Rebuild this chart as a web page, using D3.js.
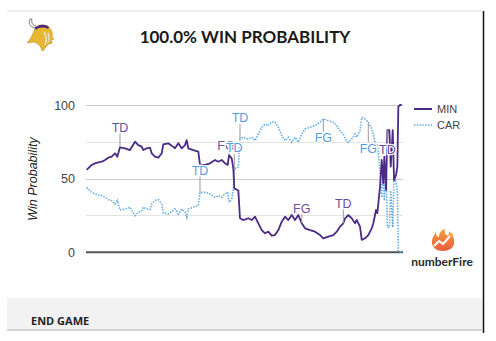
<!DOCTYPE html>
<html><head><meta charset="utf-8">
<script src="https://cdn.jsdelivr.net/npm/d3@7"></script>
<style>
html,body{margin:0;padding:0;background:#fff;}
svg{display:block;}
</style></head>
<body>
<svg id="c" width="496" height="341"></svg>
<script>
// ---- data ----
const gameMinute = [0,0.95,1.58,2.21,2.86,3.49,4.11,4.76,5.39,5.83,6.34,7.30,8.25,9.20,9.83,10.48,10.78,11.43,12.06,12.38,13.01,13.64,14.29,14.59,15.54,16.19,16.82,17.45,18.10,18.73,19.05,19.35,20.31,21.26,21.58,22.54,23.49,24.44,25.07,25.72,26.35,26.86,27.11,27.62,27.93,28.12,28.88,29.20,29.83,30.79,31.43,32.06,32.69,33.34,33.97,34.59,35.24,35.87,36.50,37.15,37.78,38.40,39.05,39.68,40.31,40.96,41.59,42.54,43.49,44.44,45.07,46.03,46.98,47.63,48.25,48.88,49.21,49.83,50.48,51.11,51.44,52.06,52.39,53.02,53.64,54.29,54.60,55.11,55.36,55.87,56.20,56.50,56.69,57.02,57.27,57.65,57.91,58.29,58.54,58.92,59.17,59.36,59.68,60];
const minProb = [55.9,59.3,60.4,61,61.5,62.7,64.2,64.9,67.2,64.9,71.3,70.6,69.4,75.1,72.8,71.7,69.4,70.6,71,67.2,64.9,64.2,67.2,73.3,74,72.4,70.6,74,70.6,72.8,76.2,70.6,69.4,68.3,59.3,59.3,60.4,62.7,61.5,62.7,60.4,59.3,66,63.8,57,43.4,42,23.1,21.9,23.1,21.9,24.2,19.7,15.1,12.9,14,11.3,11.7,15.1,20.8,24.2,21.9,25.3,21.9,25.3,19.7,16.3,15.1,14,11.7,9.5,10.6,11.7,14,17.4,19.7,23.1,25.3,23.1,19.7,21.9,17.4,8.4,9.5,11.7,16.3,19.7,28.7,26.5,44.5,62.7,46.8,64.9,42.3,83,83,58.1,83,49,52.5,58.1,98.9,100,100];
const carProb = [44.1,40.7,39.6,39,38.5,37.3,35.8,35.1,32.8,35.1,28.7,29.4,30.6,24.9,27.2,28.3,30.6,29.4,29,32.8,35.1,35.8,32.8,26.7,26,27.6,29.4,26,29.4,27.2,23.8,29.4,30.6,31.7,40.7,40.7,39.6,37.3,38.5,37.3,39.6,40.7,34,36.2,43,56.6,58,76.9,78.1,76.9,78.1,75.8,80.3,84.9,87.1,86,88.7,88.3,84.9,79.2,75.8,78.1,74.7,78.1,74.7,80.3,83.7,84.9,86,88.3,90.5,89.4,88.3,86,82.6,80.3,76.9,74.7,76.9,80.3,78.1,82.6,91.6,90.5,88.3,83.7,80.3,71.3,73.5,55.5,37.3,53.2,35.1,57.7,17,17,41.9,17,51,47.5,41.9,1.1,0,0];
const yTicks = [0,50,100];
const gridValues = [25,50,75,100];
const seriesNames = ["MIN","CAR"];
// annotations: series, index into data, text, label offset from point (px)
const annotations = [
  {s:"MIN", i:10, text:"TD", off:-20},
  {s:"CAR", i:34, text:"TD", off:-22},
  {s:"MIN", i:42, text:"FG", off:-9, dx:-3},
  {s:"CAR", i:45, text:"TD", off:-21},
  {s:"CAR", i:47, text:"TD", off:-21},
  {s:"MIN", i:65, text:"FG", off:-15},
  {s:"CAR", i:70, text:"FG", off:19},
  {s:"MIN", i:75, text:"TD", off:-20},
  {s:"CAR", i:84, text:"FG", off:26},
  {s:"MIN", i:94, text:"TD", off:20}
];

// ---- drawing ----
const svg = d3.select("#c");
const colors = {MIN:"#4b2a85", CAR:"#5aa8e6"};
const textColors = {MIN:"#6a4ea3", CAR:"#4f9fe2"};
const x = d3.scaleLinear().domain([0,60]).range([86.7,401.7]);
const y = d3.scaleLinear().domain([0,100]).range([252.3,105]);

// frame
svg.append("line").attr("x1",7).attr("x2",483).attr("y1",11).attr("y2",11).attr("stroke","#dcdcdc").attr("stroke-width",1);
svg.append("line").attr("x1",483.5).attr("x2",483.5).attr("y1",11).attr("y2",333).attr("stroke","#111").attr("stroke-width",1.5);

// title
svg.append("text").attr("x",245).attr("y",43).attr("text-anchor","middle")
  .attr("font-family","Lato, 'Open Sans', sans-serif").attr("font-weight","bold").attr("font-size",17)
  .attr("fill","#1a1a1a").text("100.0% WIN PROBABILITY");

// Vikings logo (approximation)
const logo = svg.append("g").attr("transform","translate(26,16)");
logo.append("path").attr("d","M4,3 C2,7 4,11 9,12 L10,10 C7,9 5,7 6,3 Z").attr("fill","#f4f4f4").attr("stroke","#555").attr("stroke-width",0.7);
logo.append("path").attr("d","M9,12 C13,8 19,8 23,11 C26,14 27,18 26,21 L28,23 L25,24 L26,27 L23,28 C21,30 19,31 18,34 L16,35 C15,30 12,27 7,26 L1,27 C4,24 6,20 8,15 Z").attr("fill","#e8b830").attr("stroke","#a8841a").attr("stroke-width",0.5);
logo.append("path").attr("d","M9,12 C13,8 19,8 23,11 L22,13 C18,11 13,11 10,14 Z").attr("fill","#4f2683");
logo.append("path").attr("d","M18,16 C20,19 21,24 19,29 M22,17 C23,20 23,24 22,26").attr("fill","none").attr("stroke","#e2dccb").attr("stroke-width",1.6);

// gridlines
svg.append("g").selectAll("line").data(gridValues).join("line")
  .attr("x1",86).attr("x2",403).attr("y1",d=>Math.round(y(d))+0.5).attr("y2",d=>Math.round(y(d))+0.5)
  .attr("stroke",d=>d%50===0?"#cccccc":"#e4e4e4").attr("stroke-width",1);
svg.append("line").attr("x1",86).attr("x2",403).attr("y1",y(0)).attr("y2",y(0)).attr("stroke","#555").attr("stroke-width",2);

// y axis labels
const yAxis = d3.axisLeft(y).tickValues(yTicks).tickSize(0).tickPadding(0);
const ga = svg.append("g").attr("transform","translate(75,0)").call(yAxis);
ga.select(".domain").remove();
ga.selectAll("text").attr("font-family","Arial, 'Liberation Sans', sans-serif").attr("font-size",12.5).attr("fill","#444");

svg.append("text").attr("transform","translate(37,179) rotate(-90)").attr("text-anchor","middle")
  .attr("font-family","Arial, 'Liberation Sans', sans-serif").attr("font-style","italic").attr("font-size",12.5)
  .attr("fill","#222").text("Win Probability");

// lines
const series = {MIN:minProb, CAR:carProb};
const lineGen = arr => d3.line().x((d,i)=>x(gameMinute[i])).y(d=>y(d))(arr);
svg.append("path").attr("d",lineGen(carProb)).attr("fill","none").attr("stroke",colors.CAR)
  .attr("stroke-width",1.6).attr("stroke-dasharray","1.4,1.4");
svg.append("path").attr("d",lineGen(minProb)).attr("fill","none").attr("stroke",colors.MIN)
  .attr("stroke-width",1.8).attr("stroke-linejoin","round");

// annotations
const ag = svg.append("g");
annotations.forEach(a=>{
  const px = x(gameMinute[a.i]), py = y(series[a.s][a.i]);
  const ty = py + a.off;
  const stemEnd = a.off<0 ? ty+6 : ty-6;
  ag.append("line").attr("x1",px).attr("x2",px).attr("y1",py).attr("y2",stemEnd)
    .attr("stroke","#999").attr("stroke-width",1);
});
annotations.forEach(a=>{
  const px = x(gameMinute[a.i]) + (a.dx||0), py = y(series[a.s][a.i]);
  ag.append("text").attr("x",px).attr("y",py+a.off).attr("dy","0.35em").attr("text-anchor","middle")
    .attr("font-family","Arial, 'Liberation Sans', sans-serif").attr("font-size",12.5)
    .attr("fill",textColors[a.s]).attr("stroke","#fff").attr("stroke-width",2.5).attr("paint-order","stroke")
    .text(a.text);
});

// legend
const lg = svg.append("g");
seriesNames.forEach((n,k)=>{
  const ly = 109 + k*16;
  lg.append("line").attr("x1",414).attr("x2",432).attr("y1",ly).attr("y2",ly)
    .attr("stroke",colors[n]).attr("stroke-width",n==="MIN"?2:1.6).attr("stroke-dasharray",n==="CAR"?"1.4,1.4":null);
  lg.append("text").attr("x",437).attr("y",ly).attr("dy","0.35em")
    .attr("font-family","Arial, 'Liberation Sans', sans-serif").attr("font-size",11).attr("fill","#444").text(n);
});

// numberFire logo
const defs = svg.append("defs");
const gr = defs.append("linearGradient").attr("id","fl").attr("x1",0).attr("y1",0).attr("x2",0).attr("y2",1);
gr.append("stop").attr("offset","0%").attr("stop-color","#f4a13b");
gr.append("stop").attr("offset","100%").attr("stop-color","#ec5b3e");
const nf = svg.append("g").attr("transform","translate(431,229)");
nf.append("path").attr("d","M12,22 C4,22 0,17 1,11 C2,7 4,5 5,3 C5,7 7,8 8,8 C8,4 10,1 14,0 C13,4 15,6 17,7 C18,5 18,4 18,2 C22,6 24,10 23,15 C22,19 18,22 12,22 Z").attr("fill","url(#fl)");
nf.append("path").attr("d","M3,17 L8,12 L12,15 L19,7").attr("fill","none").attr("stroke","#fff").attr("stroke-width",2).attr("stroke-linejoin","round");
nf.append("circle").attr("cx",20.5).attr("cy",5.5).attr("r",1.6).attr("fill","#f7b646");
svg.append("text").attr("x",442).attr("y",266).attr("text-anchor","middle")
  .attr("font-family","Lato, 'Open Sans', sans-serif").attr("font-weight","bold").attr("font-size",12)
  .attr("fill","#2a2a2a").text("numberFire");

// bottom panel
svg.append("rect").attr("x",7).attr("y",298).attr("width",475).attr("height",31).attr("fill","#f2f2f2");
svg.append("line").attr("x1",7).attr("x2",482).attr("y1",330).attr("y2",330).attr("stroke","#d4d4d4").attr("stroke-width",2);
svg.append("text").attr("x",31).attr("y",324.5)
  .attr("font-family","'Open Sans', Lato, sans-serif").attr("font-weight","bold").attr("font-size",11)
  .attr("fill","#222").text("END GAME");
</script>
</body></html>
